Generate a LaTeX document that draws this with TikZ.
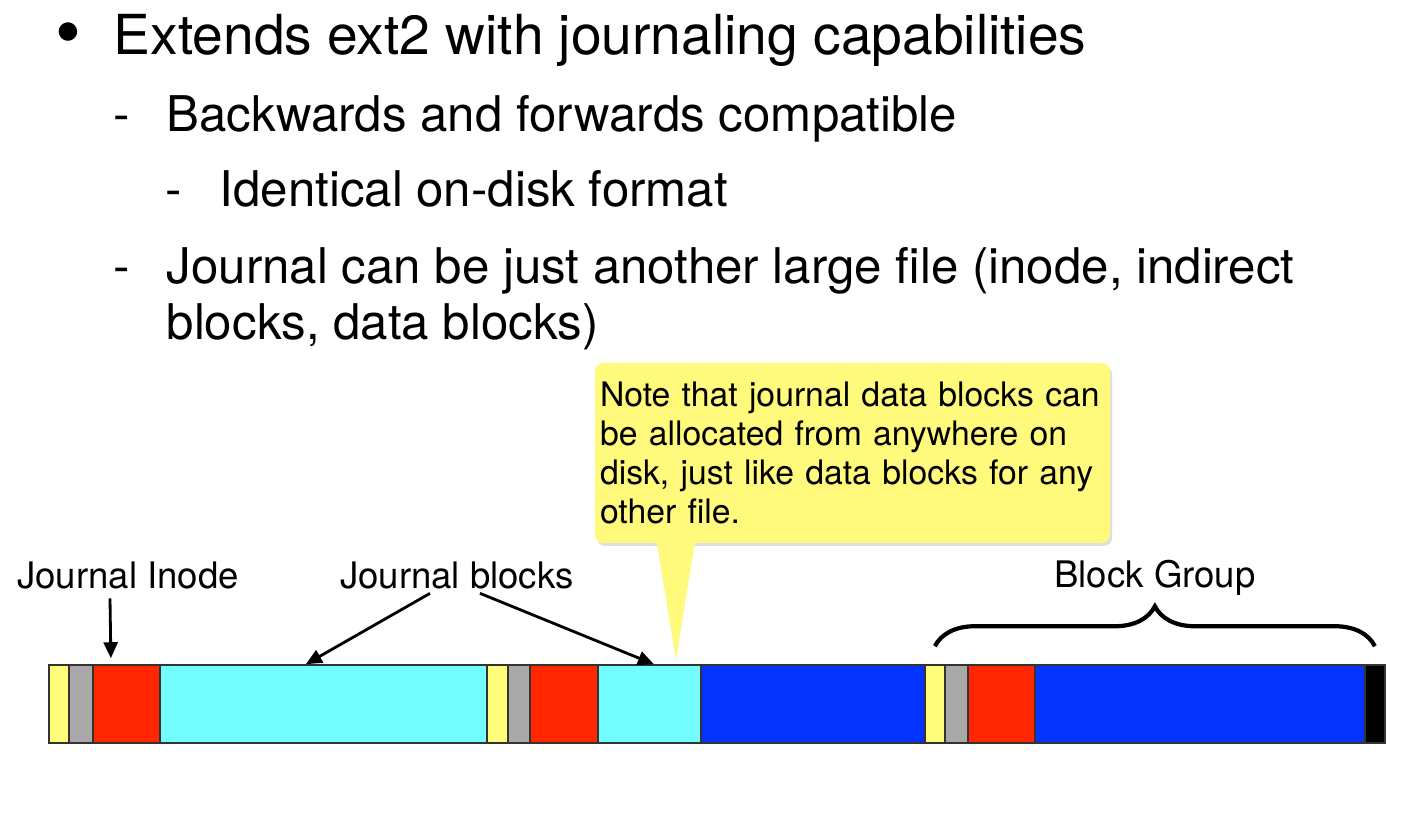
\documentclass[tikz,border=0pt]{standalone}
\usepackage{fontspec}
\setmainfont{TeX Gyre Heros}
\usepackage{xcolor}
\usetikzlibrary{positioning,calc,arrows.meta,shadows,decorations.pathreplacing}

\definecolor{sbyellow}{HTML}{FFFC79}
\definecolor{bmgray}{HTML}{A9A9A9}
\definecolor{inred}{HTML}{FF2600}
\definecolor{jcyan}{HTML}{73FDFF}
\definecolor{dblue}{HTML}{0433FF}
\definecolor{notefill}{HTML}{FFFA7C}

\tikzset{
  blk/.style={draw=black!80, line width=0.5pt, inner sep=0, minimum height=0.78cm, anchor=south west},
  arr/.style={-{Triangle[length=0.16cm,width=0.14cm]}, line width=0.8pt},
  topline/.style={anchor=base west, inner sep=0, font=\fontsize{15.7}{18}\selectfont},
  subline/.style={anchor=base west, inner sep=0, font=\fontsize{14}{17}\selectfont},
  lbl/.style={inner sep=0, font=\fontsize{10.4}{12}\selectfont},
}

\begin{document}
\begin{tikzpicture}
        \useasboundingbox (0,0) rectangle (14.17,-8.24);

        % Bullet text
        \node[inner sep=0, font=\fontsize{21}{23}\selectfont] (b0) at (0.68,-0.40) {\textbullet};
        \node[topline] (t1) at (1.13,-0.55) {Extends ext2 with journaling capabilities};
        \node[subline] (d1) at (1.13,-1.32) {-};
        \node[subline] (t2) at (1.66,-1.32) {Backwards and forwards compatible};
        \node[subline] (d2) at (1.65,-2.07) {-};
        \node[subline] (t3) at (2.19,-2.07) {Identical on-disk format};
        \node[subline] (d3) at (1.13,-2.84) {-};
        \node[subline] (t4) at (1.66,-2.84) {Journal can be just another large file (inode, indirect};
        \node[subline] (t5) at (1.66,-3.40) {blocks, data blocks)};

        % Disk layout
        \foreach \xa/\xb/\col/\nm in {48/68/sbyellow/sb1, 68/92/bmgray/bm1, 92/159/inred/in1,
            159/486/jcyan/jb1, 486/507/sbyellow/sb2, 507/529/bmgray/bm2, 529/597/inred/in2,
            597/700/jcyan/jb2, 700/924/dblue/db1, 924/944/sbyellow/sb3, 944/967/bmgray/bm3,
            967/1034/inred/in3, 1034/1364/dblue/db2, 1364/1384/black/bk}
        {
            \pgfmathsetmacro\blkw{(\xb-\xa)/100}
            \node[blk, fill=\col, minimum width=\blkw cm] (\nm) at (\xa/100,-7.44) {};
        }

        % Labels
        \node[lbl] (inlbl) at (1.28,-5.76) {Journal Inode};
        \node[lbl] (jblbl) at (4.57,-5.76) {Journal blocks};
        \node[lbl] (bglbl) at (11.55,-5.78) {Block Group};

        \draw[arr] ([xshift=-0.18cm,yshift=-0.08cm]inlbl.south) -- ([xshift=-0.155cm,yshift=0.06cm]in1.north);
        \draw[arr] ([xshift=-0.27cm,yshift=-0.03cm]jblbl.south) -- ([xshift=-0.175cm]jb1.north);
        \draw[arr] ([xshift=0.23cm,yshift=-0.03cm]jblbl.south) -- ([xshift=0.045cm]jb2.north);

        \draw[decorate, decoration={brace, amplitude=0.4cm}, line width=1.2pt]
            ([yshift=0.18cm]sb3.north) -- ([yshift=0.18cm]bk.north);

        % Callout
        \node[fill=notefill, rounded corners=0.08cm, drop shadow={shadow xshift=0.02cm, shadow yshift=-0.03cm, opacity=0.25},
              minimum width=5.15cm, minimum height=1.8cm, text width=5.05cm, inner xsep=0.05cm, align=left,
              font=\fontsize{9.6}{11.06}\selectfont] (note) at (8.525,-4.53)
            {Note that journal data blocks can be allocated from anywhere on disk, just like data blocks for any other file.};
        \coordinate (ptip) at (6.76,-6.60);
        \fill[notefill] ($(note.south west)+(0.61,0.1)$) -- (ptip) -- ($(note.south west)+(1.02,0.1)$) -- cycle;
\end{tikzpicture}
\end{document}
